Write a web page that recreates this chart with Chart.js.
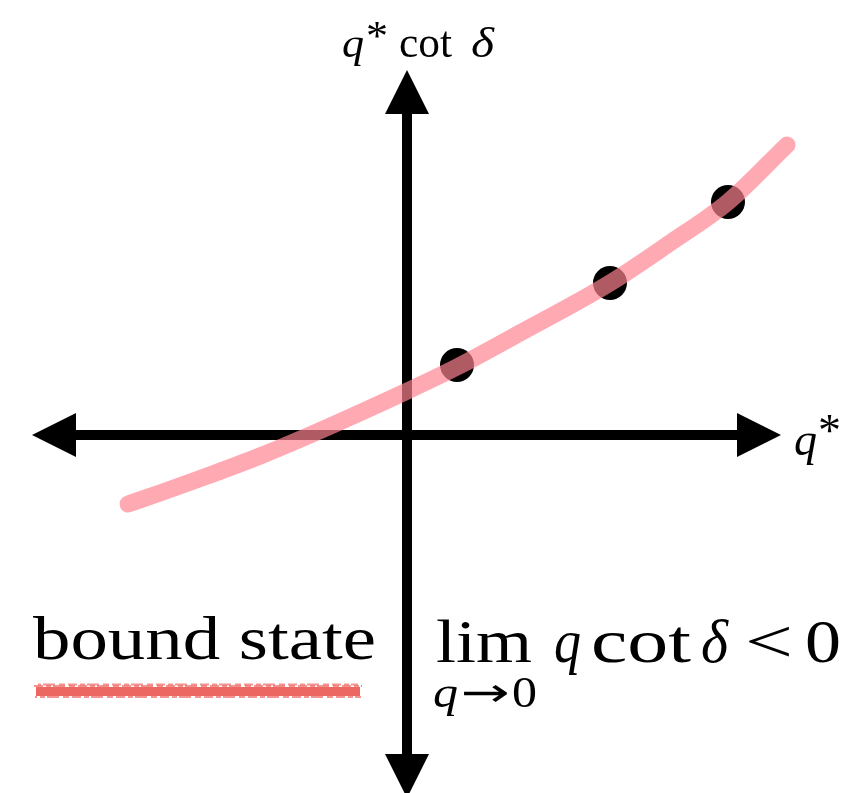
<!DOCTYPE html>
<html>
<head>
<meta charset="utf-8">
<script src="https://cdn.jsdelivr.net/npm/chart.js@4.4.0/dist/chart.umd.min.js"></script>
<style>
  html, body { margin: 0; padding: 0; background: #fff; }
  #wrap { width: 855px; height: 793px; }
</style>
</head>
<body>
<div id="wrap"><canvas id="chart" width="855" height="793"></canvas></div>
<script>
// lattice points q* cot delta vs q*
const pointX = [0.50, 2.03, 3.21];
const pointY = [0.70, 1.52, 2.33];

// hand drawn fit through the points, continued below threshold
const curveX = [-2.79, -2.47, -1.97, -1.47, -0.97, -0.04, 0.50, 1.13, 2.03, 2.63, 3.21, 3.80];
const curveY = [-0.69, -0.58, -0.40, -0.21, 0.00, 0.42, 0.68, 1.02, 1.52, 1.92, 2.33, 2.90];

// visible window and arrow tips of the two axes
const xRange = [-4.07, 4.48];
const yRange = [-3.58, 4.35];
const xAxisEnds = [-3.75, 3.74];
const yAxisEnds = [-3.63, 3.65];

const SERIF = '"Liberation Serif", "Times New Roman", serif';

function tri(ctx, ax, ay, bx, by, cx, cy) {
  ctx.beginPath();
  ctx.moveTo(ax, ay);
  ctx.lineTo(bx, by);
  ctx.lineTo(cx, cy);
  ctx.closePath();
  ctx.fill();
}

// draws str starting at x, squeezed/stretched to the given width
function fitText(ctx, str, x, base, font, width) {
  ctx.font = font;
  const w = ctx.measureText(str).width;
  ctx.save();
  ctx.translate(x, base);
  ctx.scale(width / w, 1);
  ctx.fillText(str, 0, 0);
  ctx.restore();
}

const arrowAxes = {
  id: 'arrowAxes',
  beforeDatasetsDraw(chart) {
    const { ctx, scales: { x, y } } = chart;
    const x0 = x.getPixelForValue(0);
    const y0 = y.getPixelForValue(0);
    const left = x.getPixelForValue(xAxisEnds[0]);
    const right = x.getPixelForValue(xAxisEnds[1]);
    const top = y.getPixelForValue(yAxisEnds[1]);
    const bottom = y.getPixelForValue(yAxisEnds[0]);
    const head = 44, half = 22;

    ctx.save();
    ctx.strokeStyle = '#000';
    ctx.fillStyle = '#000';
    ctx.lineWidth = 10;
    ctx.beginPath();
    ctx.moveTo(left + head - 2, y0);
    ctx.lineTo(right - head + 2, y0);
    ctx.moveTo(x0, top + head - 2);
    ctx.lineTo(x0, bottom - head + 2);
    ctx.stroke();

    tri(ctx, right, y0, right - head, y0 - half, right - head, y0 + half);
    tri(ctx, left, y0, left + head, y0 - half, left + head, y0 + half);
    tri(ctx, x0, top, x0 - half, top + head, x0 + half, top + head);
    tri(ctx, x0, bottom, x0 - half, bottom - head, x0 + half, bottom - head);
    ctx.restore();
  }
};

const labels = {
  id: 'labels',
  afterDraw(chart) {
    const { ctx } = chart;
    ctx.save();
    ctx.fillStyle = '#000';
    ctx.textBaseline = 'alphabetic';

    // y axis title
    fitText(ctx, 'q', 342, 57, 'italic 43px ' + SERIF, 22);
    fitText(ctx, '*', 366, 50, '43px ' + SERIF, 22);
    fitText(ctx, 'cot', 399, 57, '44px ' + SERIF, 53);
    fitText(ctx, 'δ', 471, 57, 'italic 43px ' + SERIF, 23);

    // x axis title
    fitText(ctx, 'q', 794, 455, 'italic 46px ' + SERIF, 23);
    fitText(ctx, '*', 818, 446, '46px ' + SERIF, 23);

    // bound state, with a rough red marker stroke under it
    fitText(ctx, 'bound state', 33, 659, '62px ' + SERIF, 343);
    ctx.fillStyle = 'rgba(236, 90, 85, 0.92)';
    ctx.fillRect(36, 687, 324, 9);
    ctx.strokeStyle = 'rgba(236, 90, 85, 0.65)';
    ctx.lineWidth = 2;
    ctx.setLineDash([9, 3, 5, 2, 12, 4, 6, 3]);
    [[34, 362, 686], [35, 361, 697], [38, 358, 684.5]].forEach(([a, b, yy], i) => {
      ctx.lineDashOffset = i * 7;
      ctx.beginPath();
      ctx.moveTo(a, yy);
      ctx.lineTo(b, yy);
      ctx.stroke();
    });
    ctx.setLineDash([]);
    ctx.fillStyle = '#000';

    // lim q cot delta < 0
    fitText(ctx, 'lim', 436, 662, '62px ' + SERIF, 96);
    fitText(ctx, 'q', 554, 662, 'italic 62px ' + SERIF, 27);
    fitText(ctx, 'cot', 591, 662, '62px ' + SERIF, 100);
    fitText(ctx, 'δ', 701, 662, 'italic 62px ' + SERIF, 27);
    fitText(ctx, '<', 745, 662, '62px ' + SERIF, 48);
    fitText(ctx, '0', 805, 662, '62px ' + SERIF, 36);
    fitText(ctx, 'q', 433, 707, 'italic 44px ' + SERIF, 25);
    fitText(ctx, '→', 461, 706, '40px "DejaVu Sans", sans-serif', 49);
    fitText(ctx, '0', 512, 707, '44px ' + SERIF, 25);
    ctx.restore();
  }
};

const curveData = curveX.map((x, i) => ({ x, y: curveY[i] }));
const pointData = pointX.map((x, i) => ({ x, y: pointY[i] }));

new Chart(document.getElementById('chart'), {
  type: 'scatter',
  data: {
    datasets: [
      {
        data: curveData,
        showLine: true,
        borderColor: 'rgba(255, 130, 145, 0.69)',
        borderWidth: 17,
        borderCapStyle: 'round',
        borderJoinStyle: 'round',
        cubicInterpolationMode: 'monotone',
        pointRadius: 0,
        fill: false,
        order: 0
      },
      {
        data: pointData,
        pointRadius: 17,
        pointHoverRadius: 17,
        backgroundColor: '#000',
        borderWidth: 0,
        order: 1
      }
    ]
  },
  options: {
    responsive: false,
    animation: false,
    layout: { padding: 0, autoPadding: false },
    plugins: { legend: { display: false }, tooltip: { enabled: false } },
    scales: {
      x: { type: 'linear', min: xRange[0], max: xRange[1], display: false },
      y: { type: 'linear', min: yRange[0], max: yRange[1], display: false }
    }
  },
  plugins: [arrowAxes, labels]
});
</script>
</body>
</html>
